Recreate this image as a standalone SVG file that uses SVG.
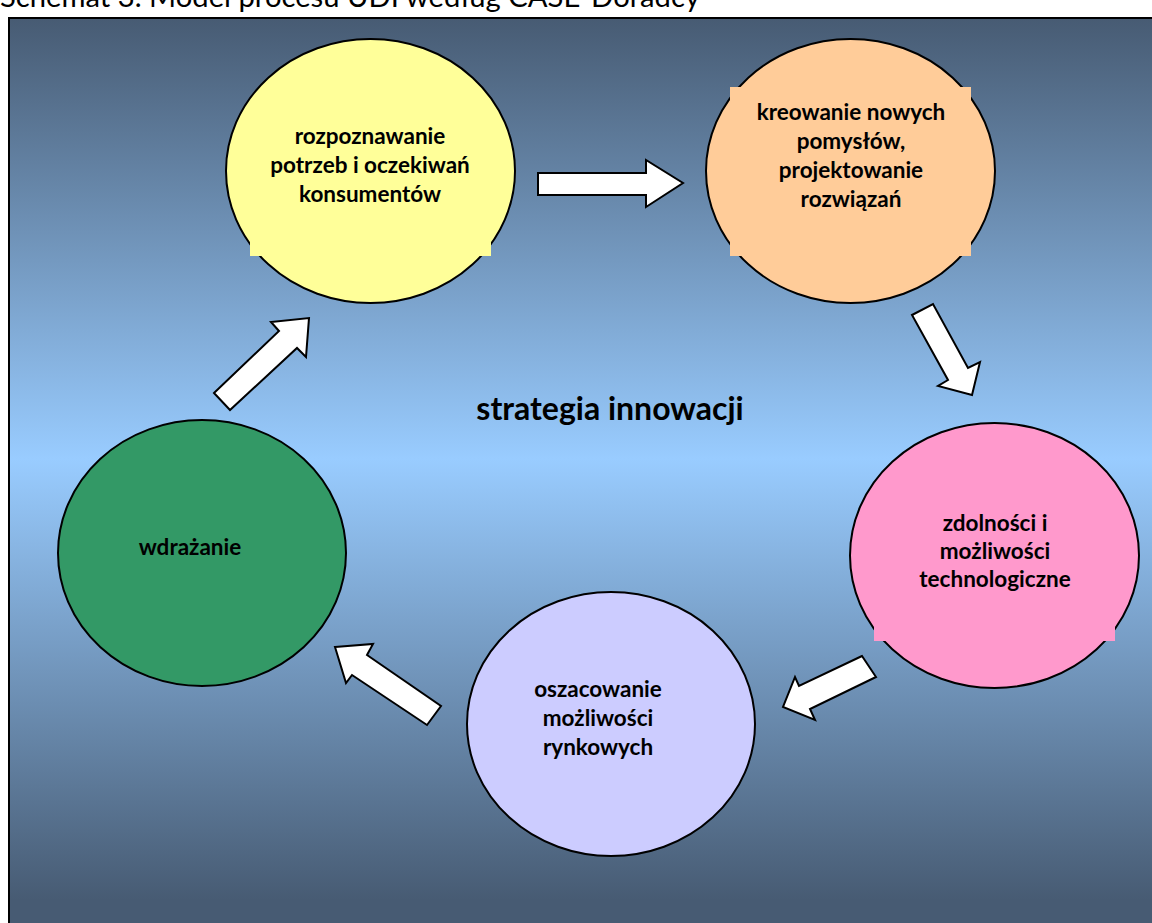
<svg xmlns="http://www.w3.org/2000/svg" width="1152" height="923" viewBox="0 0 1152 923">
<defs>
<linearGradient id="bg" x1="0" y1="18" x2="0" y2="900" gradientUnits="userSpaceOnUse">
<stop offset="0" stop-color="#475b73"/>
<stop offset="0.5" stop-color="#99ccff"/>
<stop offset="1" stop-color="#475b73"/>
</linearGradient>
<style>
.node{stroke:#000;stroke-width:2}
.lbl{font-family:Lato,"Liberation Sans",sans-serif;font-weight:bold;font-size:22.5px;fill:#000;text-anchor:middle}
.arrow{fill:#fff;stroke:#000;stroke-width:2;stroke-linejoin:miter}
</style>
</defs>
<rect width="1152" height="923" fill="#fff"/>
<text x="0" y="7" font-family="Lato,'Liberation Sans',sans-serif" font-size="28" fill="#000" textLength="700" lengthAdjust="spacingAndGlyphs">Schemat 3. Model procesu UDI według CASE-Doradcy</text>
<rect x="9" y="18" width="1160" height="920" fill="url(#bg)" stroke="#000" stroke-width="2"/>
<g id="connectors">
<polygon class="arrow" points="538,173 646,173 646,160 683,183 646,207 646,195 538,195"/>
<polygon class="arrow" points="912,315 933,304 968,368 980,362 972,395 938,386 948,380"/>
<polygon class="arrow" points="862,656 799,686 795,677 783,707 815,720 810,709 876,677"/>
<polygon class="arrow" points="335,647 373,644 367,655 441,706 427,725 352,675 346,683"/>
<polygon class="arrow" points="214,393 279,331 271,322 309,318 306,357 297,348 230,410"/>
</g>
<g id="node-rozpoznawanie">
<ellipse class="node" cx="370.5" cy="171" rx="144.5" ry="132" fill="#ffff99"/>
<rect x="250" y="110" width="241" height="146" fill="#ffff99"/>
<text class="lbl" x="370" y="144">rozpoznawanie</text>
<text class="lbl" x="370" y="173">potrzeb i oczekiwań</text>
<text class="lbl" x="370" y="202">konsumentów</text>
</g>
<g id="node-kreowanie">
<ellipse class="node" cx="850.5" cy="171" rx="144.5" ry="132" fill="#ffcc99"/>
<rect x="730" y="87" width="241" height="169" fill="#ffcc99"/>
<text class="lbl" x="851" y="120">kreowanie nowych</text>
<text class="lbl" x="851" y="149">pomysłów,</text>
<text class="lbl" x="851" y="178">projektowanie</text>
<text class="lbl" x="851" y="207">rozwiązań</text>
</g>
<g id="node-zdolnosci">
<ellipse class="node" cx="994.5" cy="555.5" rx="144.5" ry="132.5" fill="#ff99cc"/>
<rect x="874" y="490" width="241" height="151" fill="#ff99cc"/>
<text class="lbl" x="995" y="531">zdolności i</text>
<text class="lbl" x="995" y="559">możliwości</text>
<text class="lbl" x="995" y="587">technologiczne</text>
</g>
<g id="node-oszacowanie">
<ellipse class="node" cx="611" cy="724" rx="144" ry="132" fill="#ccccff"/>
<text class="lbl" x="598" y="697">oszacowanie</text>
<text class="lbl" x="598" y="726">możliwości</text>
<text class="lbl" x="598" y="755">rynkowych</text>
</g>
<g id="node-wdrazanie">
<ellipse class="node" cx="202" cy="553" rx="144" ry="133" fill="#339966"/>
<text class="lbl" x="190" y="555">wdrażanie</text>
</g>
<g id="center-label">
<text x="610" y="420" font-family="Lato,'Liberation Sans',sans-serif" font-weight="bold" font-size="32" fill="#000" text-anchor="middle">strategia innowacji</text>
</g>
</svg>
